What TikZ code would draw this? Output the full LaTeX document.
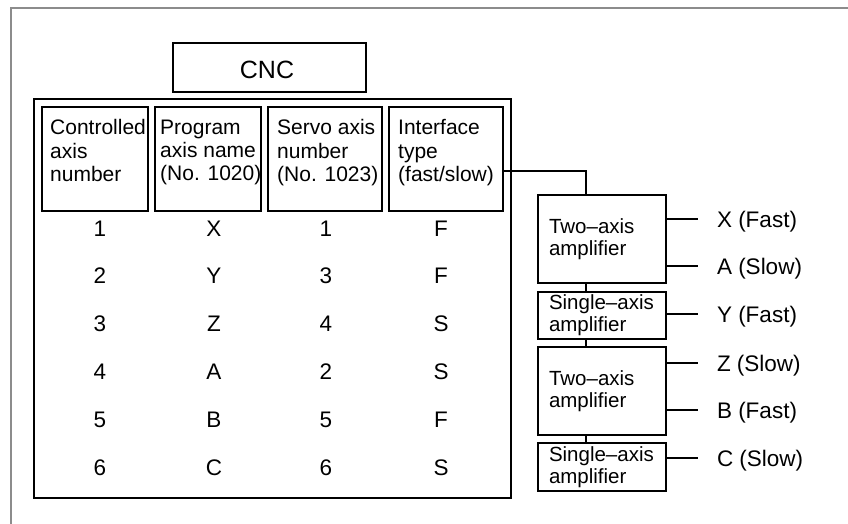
\documentclass[tikz,border=0pt]{standalone}
\usepackage{fontspec}
\setmainfont{Liberation Sans}
\begin{document}
\begin{tikzpicture}[x=1pt,y=-1pt,
  box/.style={draw, line width=1.6pt, rectangle, anchor=north west, inner sep=0pt, outer sep=0pt},
  cell/.style={font=\fontsize{22.5}{24}\selectfont, anchor=base, inner sep=0pt},
  head/.style={font=\fontsize{21}{23.3}\selectfont, align=left, anchor=north west, inner sep=0pt},
  amp/.style={box, minimum width=128pt, align=left, text width=106pt, inner xsep=11pt, font=\fontsize{20.5}{22}\selectfont},
  lbl/.style={font=\fontsize{22.5}{24}\selectfont, anchor=west, inner xsep=19pt, inner ysep=0pt, outer sep=0pt, text height=16pt, text depth=0pt},
  wire/.style={line width=1.6pt},
  frame/.style={draw=black!45, line width=2.5pt, line join=miter}]
\useasboundingbox (0,0) rectangle (848,524);
% outer frame
\draw[frame] (11,530) -- (11,8) -- (855,8);
% CNC
\node[box, minimum width=193pt, minimum height=49pt] (cnc) at (173,43) {};
\node[font=\fontsize{25}{27}\selectfont, anchor=base, inner sep=0pt] (cnct) at (267,79) {CNC};
% main table
\node[box, minimum width=477pt, minimum height=399pt] (main) at (34,99) {};
\node[box, minimum width=106pt, minimum height=104pt] (h1) at (42,107) {};
\node[box, minimum width=106pt, minimum height=104pt] (h2) at (155,107) {};
\node[box, minimum width=114pt, minimum height=104pt] (h3) at (268,107) {};
\node[box, minimum width=114pt, minimum height=104pt] (h4) at (389,107) {};
\node[head] (h1t) at (50,119.5) {Controlled\\axis\\number};
\node[head] (h2t) at (160,119.5) {Program\\axis name\\(No. 1020)};
\node[head] (h3t) at (277,119.5) {Servo axis\\number\\(No. 1023)};
\node[head] (h4t) at (398,119.5) {Interface\\type\\(fast/slow)};
% rows
\foreach \i/\a/\b/\c/\d in {1/1/X/1/F, 2/2/Y/3/F, 3/3/Z/4/S, 4/4/A/2/S, 5/5/B/5/F, 6/6/C/6/S}{
  \pgfmathsetmacro\yy{228+47.95*(\i-1)+8}
  \node[cell] (r\i a) at (100,\yy) {\a};
  \node[cell] (r\i b) at (214,\yy) {\b};
  \node[cell] (r\i c) at (326,\yy) {\c};
  \node[cell] (r\i d) at (441,\yy) {\d};
}
% amplifiers
\node[amp, minimum height=88pt] (a1) at (538,195) {Two–axis\\amplifier};
\node[amp, minimum height=47pt] (a2) at (538,292) {Single–axis\\amplifier};
\node[amp, minimum height=88pt] (a3) at (538,347) {Two–axis\\amplifier};
\node[amp, minimum height=48pt] (a4) at (538,443) {Single–axis\\amplifier};
\coordinate (bus) at (586,0);
\draw[wire] ([yshift=-12pt]h4.east) -| (bus |- a1.north);
\draw[wire] (bus |- a1.south) -- (bus |- a2.north);
\draw[wire] (bus |- a2.south) -- (bus |- a3.north);
\draw[wire] (bus |- a3.south) -- (bus |- a4.north);
% labels
\node[lbl] (lX) at (698,219) {X (Fast)};
\node[lbl] (lA) at (698,266) {A (Slow)};
\node[lbl] (lY) at (698,314) {Y (Fast)};
\node[lbl] (lZ) at (698,363) {Z (Slow)};
\node[lbl] (lB) at (698,410) {B (Fast)};
\node[lbl] (lC) at (698,458) {C (Slow)};
\draw[wire] (a1.east |- lX.west) -- (lX.west);
\draw[wire] (a1.east |- lA.west) -- (lA.west);
\draw[wire] (a2.east |- lY.west) -- (lY.west);
\draw[wire] (a3.east |- lZ.west) -- (lZ.west);
\draw[wire] (a3.east |- lB.west) -- (lB.west);
\draw[wire] (a4.east |- lC.west) -- (lC.west);
\end{tikzpicture}
\end{document}
